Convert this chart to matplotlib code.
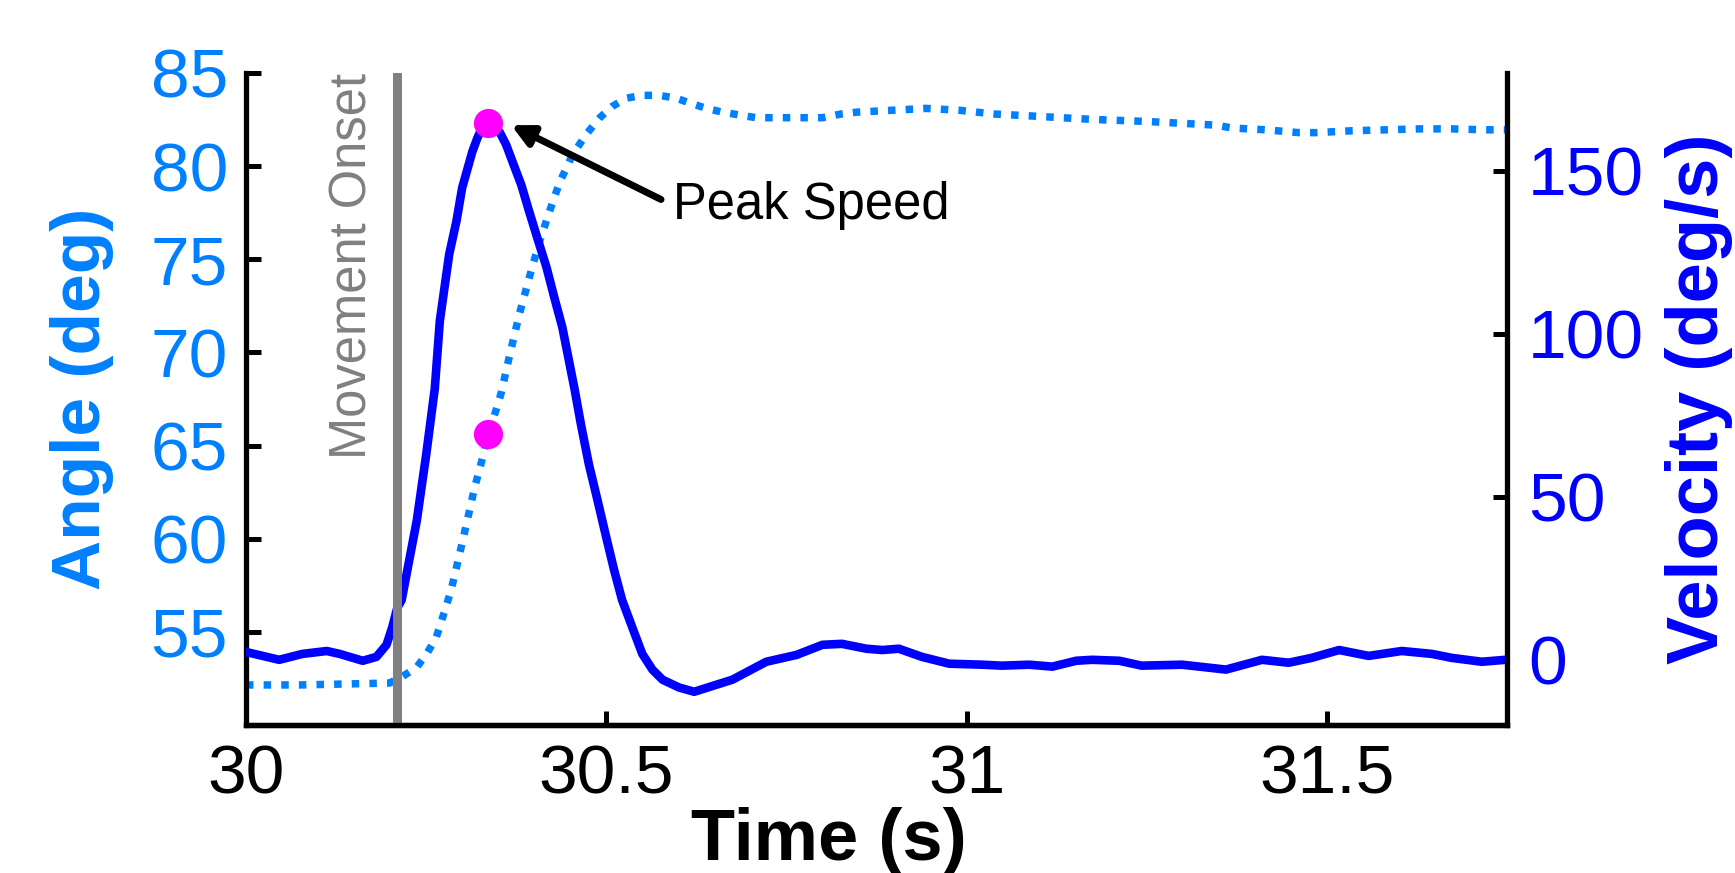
import matplotlib
matplotlib.use('Agg')
import matplotlib.pyplot as plt

plt.rcParams['font.family'] = ['Liberation Sans', 'DejaVu Sans']

# angle trace (dotted, left axis)
t_angle = [30.000, 30.074, 30.199, 30.217, 30.237, 30.252, 30.264, 30.278, 30.285,
           30.296, 30.306, 30.317, 30.328, 30.336, 30.347, 30.354, 30.365, 30.379,
           30.393, 30.407, 30.421, 30.435, 30.453, 30.472, 30.491, 30.508, 30.528,
           30.550, 30.573, 30.597, 30.615, 30.639, 30.661, 30.684, 30.708, 30.754,
           30.800, 30.826, 30.848, 30.897, 30.944, 30.990, 31.038, 31.087, 31.132,
           31.180, 31.249, 31.299, 31.346, 31.368, 31.415, 31.461, 31.486, 31.535,
           31.582, 31.628, 31.673, 31.720, 31.748]
angle = [52.15, 52.15, 52.25, 52.6, 53.1, 53.9, 54.7, 56.4, 57.3,
         59.1, 60.8, 62.7, 64.3, 65.6, 66.9, 67.8, 69.7, 72.0,
         74.0, 75.9, 77.55, 79.1, 80.6, 81.7, 82.6, 83.2, 83.65,
         83.8, 83.8, 83.65, 83.4, 83.1, 82.9, 82.75, 82.6, 82.6,
         82.6, 82.8, 82.9, 83.0, 83.1, 83.0, 82.8, 82.7, 82.6,
         82.5, 82.4, 82.3, 82.2, 82.05, 81.95, 81.8, 81.8, 81.9,
         81.95, 82.0, 82.0, 81.95, 81.95]

# velocity trace (solid, right axis)
t_vel = [30.000, 30.046, 30.078, 30.112, 30.130, 30.162, 30.181, 30.195, 30.203,
         30.210, 30.216, 30.237, 30.250, 30.262, 30.269, 30.282, 30.292, 30.300,
         30.314, 30.321, 30.328, 30.336, 30.352, 30.361, 30.370, 30.382, 30.393,
         30.404, 30.417, 30.428, 30.439, 30.456, 30.465, 30.476, 30.488, 30.500,
         30.511, 30.522, 30.536, 30.550, 30.564, 30.578, 30.601, 30.622, 30.675,
         30.722, 30.764, 30.800, 30.827, 30.861, 30.883, 30.906, 30.938, 30.976,
         31.022, 31.049, 31.087, 31.119, 31.152, 31.174, 31.212, 31.243, 31.299,
         31.360, 31.410, 31.447, 31.479, 31.517, 31.558, 31.604, 31.646, 31.673,
         31.715, 31.748]
vel = [2.4, 0.0, 1.8, 2.7, 1.8, -0.3, 0.9, 4.6, 10.0,
       16.0, 18.3, 42.7, 62.8, 83.2, 104.0, 124.4, 134.5, 144.8,
       155.8, 160.0, 163.4, 164.6, 161.9, 158.0, 152.7, 145.7, 137.5,
       129.6, 120.4, 111.0, 102.0, 83.0, 72.0, 59.8, 48.8, 37.5,
       27.4, 18.3, 10.0, 1.8, -3.0, -6.1, -8.5, -9.8, -6.1,
       -0.6, 1.5, 4.6, 4.9, 3.4, 3.0, 3.4, 0.9, -1.2,
       -1.5, -1.8, -1.5, -2.1, -0.3, 0.0, -0.3, -1.8, -1.5,
       -3.0, 0.0, -0.9, 0.6, 3.0, 1.2, 2.7, 1.8, 0.6,
       -0.6, 0.0]

onset_t = 30.210
peak_t = 30.336
peak_v = 164.6
peak_angle = 65.6

angle_color = '#0080FF'
vel_color = '#0000FF'

fig = plt.figure(figsize=(17.35, 8.73), dpi=100)
ax1 = fig.add_axes([246 / 1735, 148 / 873, 1261 / 1735, 652 / 873])
ax2 = ax1.twinx()

ax1.plot(t_angle, angle, linestyle=(0, (1.0, 1.35)), color=angle_color, lw=5.4)
ax1.plot(peak_t, peak_angle, 'o', color='magenta', ms=20)

ax2.plot(t_vel, vel, '-', color=vel_color, lw=6.2, solid_joinstyle='round')
ax2.axvline(onset_t, color='#808080', lw=6.5)
ax2.plot(peak_t, peak_v, 'o', color='magenta', ms=20)

ax2.text(30.183, 1.0, 'Movement Onset', rotation=90, color='#808080',
         fontsize=36.5, ha='right', va='top',
         transform=ax2.get_xaxis_transform())

ax2.annotate('', xy=(30.368, 164), xytext=(30.576, 141.2),
             arrowprops=dict(arrowstyle='-|>', color='k', lw=5,
                             mutation_scale=32, shrinkA=0, shrinkB=0))
ax2.text(30.592, 139.5, 'Peak Speed', fontsize=36.5, ha='left', va='center')

ax1.set_xlim(30, 31.75)
ax1.set_ylim(50, 85)
ax2.set_ylim(-20, 180)
ax1.set_xticks([30, 30.5, 31, 31.5])
ax1.set_xticklabels(['30', '30.5', '31', '31.5'])
ax1.set_yticks([55, 60, 65, 70, 75, 80, 85])
ax2.set_yticks([0, 50, 100, 150])

for ax in (ax1, ax2):
    ax.spines['top'].set_visible(False)
    for s in ax.spines.values():
        s.set_linewidth(3.8)
ax1.spines['right'].set_visible(False)
ax2.spines['left'].set_visible(False)

ax1.tick_params(axis='x', direction='in', length=10, width=3.6, labelsize=50, pad=13)
ax1.tick_params(axis='y', direction='in', length=11, width=3.6, labelsize=50, pad=13,
                labelcolor=angle_color)
ax2.tick_params(axis='y', direction='in', length=10, width=3.6, labelsize=50, pad=15,
                labelcolor=vel_color)

ax1.set_xlabel('Time (s)', fontsize=52, fontweight='bold')
ax1.xaxis.set_label_coords(0.462, -0.126)
ax1.set_ylabel('Angle (deg)', fontsize=50, fontweight='bold', color=angle_color)
ax1.yaxis.set_label_coords(-0.105, 0.5)
ax2.set_ylabel('Velocity (deg/s)', fontsize=52, fontweight='bold', color=vel_color)
ax2.yaxis.set_label_coords(1.125, 0.5)

fig.savefig('out.png', dpi=100)
